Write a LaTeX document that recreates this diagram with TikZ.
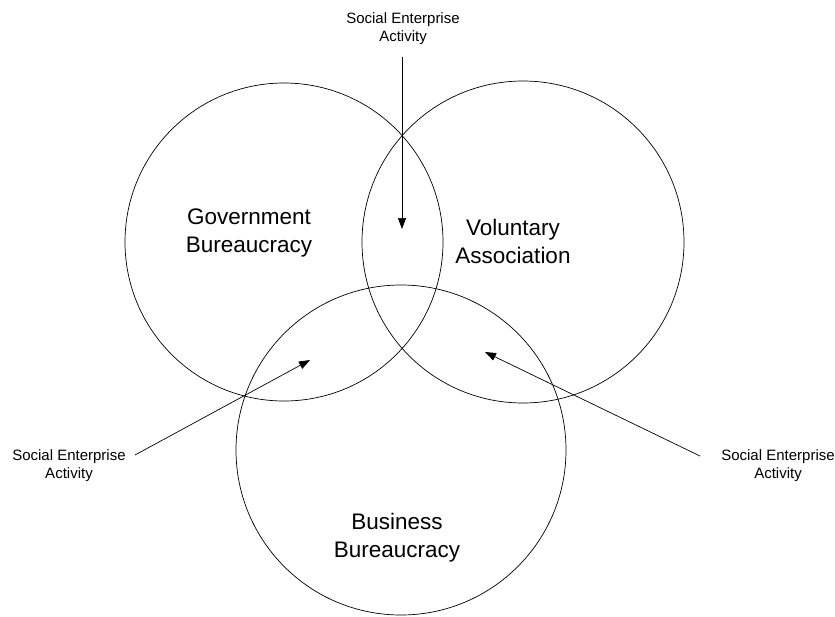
\documentclass[tikz,border=0pt]{standalone}
\usepackage{fontspec}
\setmainfont{Liberation Sans}
\usetikzlibrary{arrows.meta}

\begin{document}
\begin{tikzpicture}[x=1pt,y=-1pt,line width=0.7pt,
    sector/.style={circle,draw,inner sep=0pt},
    big/.style={align=center,font=\fontsize{22.5}{28}\selectfont},
    small/.style={align=center,font=\fontsize{15}{18}\selectfont},
    sea/.style={-{Triangle[length=11pt,width=8pt]}}]
    \useasboundingbox (0,0) rectangle (835,616);
    % the three sectors
    \node[sector,minimum size=318pt] (gov) at (284,242) {};
    \node[sector,minimum size=322pt] (vol) at (523,242) {};
    \node[sector,minimum size=330pt] (bus) at (401,450) {};
    \node[big] (govtxt) at (249,233) {Government\\Bureaucracy};
    \node[big] (voltxt) at (513,241) {Voluntary\\Association};
    \node[big] (bustxt) at (397,538) {Business\\Bureaucracy};
    % the overlaps
    \node[small] (top) at (403,29) {Social Enterprise\\Activity};
    \node[small] (left) at (69,466) {Social Enterprise\\Activity};
    \node[small] (right) at (778,466) {Social Enterprise\\Activity};
    \coordinate (topfrom) at (402,57);
    \coordinate (topto) at (402,229);
    \coordinate (leftfrom) at (135,455);
    \coordinate (leftto) at (310,360);
    \coordinate (rightfrom) at (700,456);
    \coordinate (rightto) at (485,352);

    \draw[sea] (topfrom) -- (topto);
    \draw[sea] (leftfrom) -- (leftto);
    \draw[sea] (rightfrom) -- (rightto);
\end{tikzpicture}
\end{document}
